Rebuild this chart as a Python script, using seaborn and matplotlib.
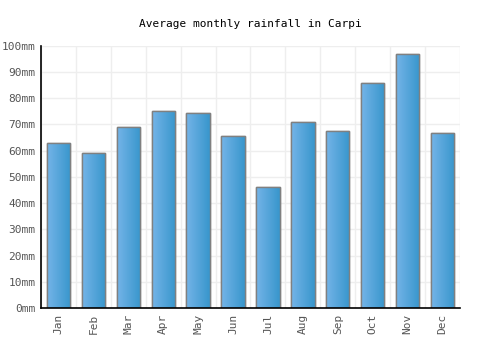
import matplotlib

matplotlib.use("Agg")
import matplotlib.pyplot as plt
import numpy as np
import pandas as pd
import seaborn as sns

MONTHS = ["Jan", "Feb", "Mar", "Apr", "May", "Jun", "Jul", "Aug", "Sep", "Oct", "Nov", "Dec"]
RAINFALL_MM = [63.0, 59.2, 69.0, 75.2, 74.4, 65.6, 46.2, 71.0, 67.6, 85.9, 97.0, 66.8]
Y_TICKS = [0, 10, 20, 30, 40, 50, 60, 70, 80, 90, 100]

df = pd.DataFrame({"month": MONTHS, "rainfall": RAINFALL_MM})

sns.set_style("white")
plt.rcParams["font.family"] = ["DejaVu Sans Mono"]

fig = plt.figure(figsize=(5, 3.5), dpi=100)
ax = fig.add_axes([0.082, 0.12, 0.838, 0.749])

sns.barplot(data=df, x="month", y="rainfall", color="#4aa3dc", width=0.67,
            edgecolor="#808080", linewidth=1.0, ax=ax, zorder=3)

# horizontal gradient fill on each bar
grad = np.linspace(0, 1, 64).reshape(1, -1)
cmap = matplotlib.colors.LinearSegmentedColormap.from_list("bar", ["#74b4e8", "#3896cc"])
for patch in ax.patches:
    x0, y0 = patch.get_x(), patch.get_y()
    w, h = patch.get_width(), patch.get_height()
    im = ax.imshow(grad, extent=[x0, x0 + w, y0, y0 + h], aspect="auto",
                   cmap=cmap, zorder=3.5, interpolation="bicubic")
    im.set_clip_path(patch)
    edge = plt.Rectangle((x0, y0), w, h, fill=False, edgecolor="#808080",
                         linewidth=1.0, zorder=4)
    ax.add_patch(edge)

ax.set_xlim(-0.5, len(MONTHS) - 0.5)
ax.set_ylim(0, 100)
ax.set_yticks(Y_TICKS)
ax.set_yticklabels([f"{v}mm" for v in Y_TICKS])
ax.set_xticks(range(len(MONTHS)))
ax.set_xticklabels(MONTHS, rotation=90)

for v in Y_TICKS:
    ax.axhline(v, color="#eeeeee", linewidth=1, zorder=1)
for i in range(len(MONTHS) + 1):
    ax.axvline(i - 0.5, color="#eeeeee", linewidth=1, zorder=1)

ax.set_xlabel("")
ax.set_ylabel("")
ax.tick_params(axis="both", labelsize=8, colors="#555555", length=0, pad=4)
for side in ["top", "right"]:
    ax.spines[side].set_visible(False)
for side in ["left", "bottom"]:
    ax.spines[side].set_color("black")
    ax.spines[side].set_linewidth(1.2)
    ax.spines[side].set_zorder(5)

fig.suptitle("Average monthly rainfall in Carpi", y=0.945, fontsize=8, color="black")

fig.savefig("out.png", dpi=100)
